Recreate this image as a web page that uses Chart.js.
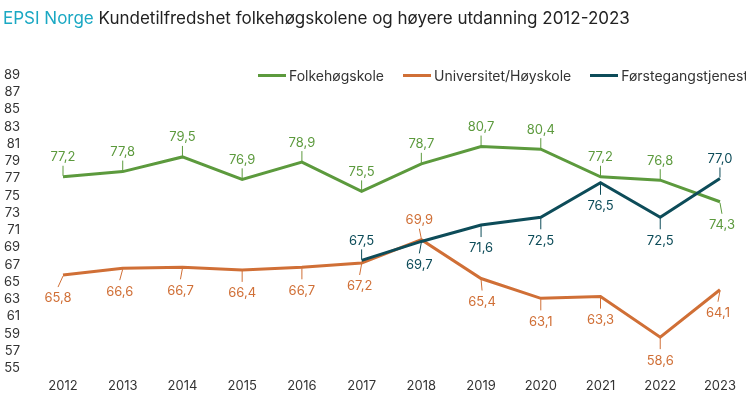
<!DOCTYPE html>
<html>
<head>
<meta charset="utf-8">
<script src="https://cdn.jsdelivr.net/npm/chart.js@4"></script>
<style>
    html, body { margin: 0; padding: 0; background: #fff; overflow: hidden; }
    body { width: 746px; height: 419px; position: relative; font-family: Inter, sans-serif; }
    #title { position: absolute; left: 3px; top: 8px; font-size: 17px; color: #222; white-space: nowrap; }
    #title .brand { color: #1aa8c3; }
    #legend { position: absolute; left: 258px; top: 67px; display: flex; font-size: 14px; color: #333; white-space: nowrap; }
    #legend .item { display: flex; align-items: center; margin-right: 19px; }
    #legend .swatch { width: 28px; height: 3px; margin-right: 3px; }
    #chartWrap { position: absolute; left: 0; top: 0; width: 746px; height: 419px; }
</style>
</head>
<body>
<div id="chartWrap"><canvas id="epsiChart" width="746" height="419"></canvas></div>
<div id="title"><span class="brand">EPSI Norge</span> Kundetilfredshet folkehøgskolene og høyere utdanning 2012-2023</div>
<div id="legend"></div>

<script>
// Data
const years = ['2012', '2013', '2014', '2015', '2016', '2017', '2018', '2019', '2020', '2021', '2022', '2023'];
const folkehogskole = [77.2, 77.8, 79.5, 76.9, 78.9, 75.5, 78.7, 80.7, 80.4, 77.2, 76.8, 74.3];
const universitet = [65.8, 66.6, 66.7, 66.4, 66.7, 67.2, 69.9, 65.4, 63.1, 63.3, 58.6, 64.1];
const forstegang = [null, null, null, null, null, 67.5, 69.7, 71.6, 72.5, 76.5, 72.5, 77.0];
const yTicks = [55, 57, 59, 61, 63, 65, 67, 69, 71, 73, 75, 77, 79, 81, 83, 85, 87, 89];

const colors = {
    folk: '#5c9a3d',
    uni: '#d06f36',
    forst: '#0d4c59'
};

// label placement per point: [direction (1 above, -1 below), leader slant in px]
const placement = [
    [[1,0],[1,0],[1,0],[1,0],[1,0],[1,0],[1,0],[1,0],[1,0],[1,0],[1,0],[-1,2]],
    [[-1,-5],[-1,-3],[-1,-2],[-1,0],[-1,0],[-1,-2],[1,-2],[-1,1],[-1,0],[-1,0],[-1,0],[-1,-2]],
    [[0,0],[0,0],[0,0],[0,0],[0,0],[1,0],[-1,-2],[-1,0],[-1,0],[-1,0],[-1,0],[1,0]]
];

const leaderLabels = {
    id: 'leaderLabels',
    afterDatasetsDraw(chart) {
        const ctx = chart.ctx;
        ctx.save();
        ctx.font = '13px Inter, sans-serif';
        ctx.textAlign = 'center';
        chart.data.datasets.forEach((ds, di) => {
            const meta = chart.getDatasetMeta(di);
            meta.data.forEach((pt, i) => {
                const v = ds.data[i];
                if (v == null) return;
                const [dir, dx] = placement[di][i];
                const x = pt.x, y = pt.y;
                const txt = v.toFixed(1).replace('.', ',');
                ctx.strokeStyle = ds.borderColor;
                ctx.fillStyle = ds.borderColor;
                ctx.lineWidth = 1;
                ctx.beginPath();
                if (dir > 0) {
                    ctx.moveTo(x, y - 1);
                    ctx.lineTo(x + dx, y - 11);
                    ctx.stroke();
                    ctx.textBaseline = 'bottom';
                    ctx.fillText(txt, x + dx, y - 13);
                } else {
                    ctx.moveTo(x, y + 1);
                    ctx.lineTo(x + dx, y + 12);
                    ctx.stroke();
                    ctx.textBaseline = 'top';
                    ctx.fillText(txt, x + dx, y + 17);
                }
            });
        });
        ctx.restore();
    }
};

const ctx = document.getElementById('epsiChart').getContext('2d');
const epsiChart = new Chart(ctx, {
    type: 'line',
    data: {
        labels: years,
        datasets: [
            { label: 'Folkehøgskole', data: folkehogskole, borderColor: colors.folk, backgroundColor: colors.folk, order: 1 },
            { label: 'Universitet/Høyskole', data: universitet, borderColor: colors.uni, backgroundColor: colors.uni, order: 2 },
            { label: 'Førstegangstjeneste', data: forstegang, borderColor: colors.forst, backgroundColor: colors.forst, order: 0 }
        ]
    },
    options: {
        responsive: false,
        animation: false,
        devicePixelRatio: 1,
        elements: {
            line: { borderWidth: 3, tension: 0 },
            point: { radius: 0, hoverRadius: 0 }
        },
        layout: {
            padding: { top: 75, bottom: 11, left: 3, right: 23 }
        },
        plugins: {
            legend: { display: false },
            tooltip: { enabled: false }
        },
        scales: {
            x: {
                offset: false,
                grid: { display: false, drawTicks: false },
                border: { display: false },
                ticks: { color: '#333', font: { family: 'Inter', size: 13 }, padding: 10, maxRotation: 0 }
            },
            y: {
                min: 55,
                max: 89,
                afterBuildTicks: axis => { axis.ticks = yTicks.map(v => ({ value: v })); },
                afterFit: axis => { axis.width = 60; },
                grid: { display: false, drawTicks: false },
                border: { display: false },
                ticks: { color: '#333', font: { family: 'Inter', size: 13 }, padding: 43, autoSkip: false }
            }
        }
    },
    plugins: [leaderLabels]
});

// HTML legend
const legendEl = document.getElementById('legend');
epsiChart.data.datasets.forEach(ds => {
    const item = document.createElement('div');
    item.className = 'item';
    item.innerHTML = '<span class="swatch" style="background:' + ds.borderColor + '"></span><span>' + ds.label + '</span>';
    legendEl.appendChild(item);
});
</script>
</body>
</html>
